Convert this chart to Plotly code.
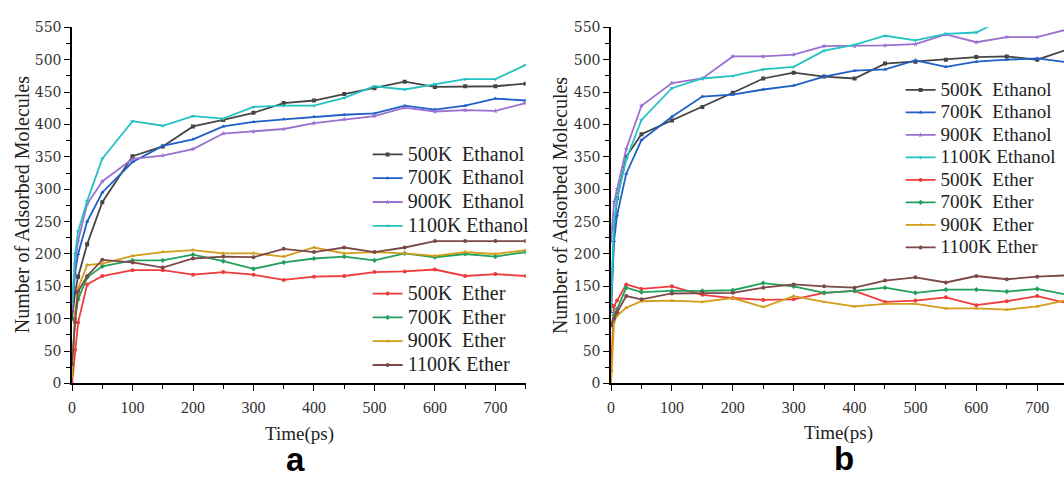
import plotly.graph_objects as go

W, H = 1064, 478

# ---------------- data ----------------
time_ps = [0, 5, 10, 25, 50, 100, 150, 200, 250, 300, 350, 400, 450, 500, 550, 600, 650, 700, 750]

series_names = ["500K  Ethanol", "700K  Ethanol", "900K  Ethanol", "1100K Ethanol",
                "500K  Ether", "700K  Ether", "900K  Ether", "1100K Ether"]

# panel a
a_500_ethanol = [100, 140, 165, 215, 280, 351, 366, 397, 407, 418, 433, 437, 447, 456, 466, 458, 459, 459, 463]
a_700_ethanol = [110, 170, 200, 250, 295, 342, 367, 377, 397, 404, 408, 412, 415, 417, 429, 423, 429, 440, 437]
a_900_ethanol = [115, 185, 220, 277, 312, 347, 352, 362, 386, 389, 393, 402, 408, 413, 426, 420, 422, 421, 433]
a_1100_ethanol = [122, 200, 235, 282, 347, 405, 398, 413, 409, 427, 429, 429, 441, 459, 454, 462, 470, 470, 492]
a_500_ether = [0, 52, 94, 153, 166, 175, 175, 168, 172, 168, 160, 165, 166, 172, 173, 176, 166, 169, 166]
a_700_ether = [20, 100, 130, 164, 181, 190, 190, 199, 189, 177, 187, 193, 196, 190, 201, 195, 200, 196, 203]
a_900_ether = [10, 110, 147, 183, 185, 197, 203, 206, 201, 201, 196, 210, 201, 203, 201, 197, 203, 200, 206]
a_1100_ether = [30, 95, 142, 166, 191, 187, 179, 193, 196, 195, 208, 203, 210, 203, 210, 220, 220, 220, 220]

# panel b
b_500_ethanol = [120, 240, 286, 350, 385, 406, 427, 449, 471, 480, 474, 471, 494, 497, 500, 504, 505, 500, 516]
b_700_ethanol = [110, 220, 260, 324, 376, 412, 443, 446, 454, 460, 474, 483, 485, 499, 489, 497, 500, 502, 496]
b_900_ethanol = [220, 280, 300, 362, 429, 464, 471, 505, 505, 508, 521, 521, 522, 524, 539, 527, 535, 535, 547]
b_1100_ethanol = [113, 250, 285, 346, 407, 456, 471, 475, 485, 489, 514, 523, 537, 530, 540, 542, 565, 575, 585]
b_500_ether = [20, 120, 128, 153, 146, 150, 137, 132, 129, 130, 140, 143, 126, 128, 133, 121, 127, 135, 124]
b_700_ether = [90, 105, 115, 148, 141, 143, 143, 144, 155, 150, 140, 143, 148, 140, 145, 145, 142, 146, 137]
b_900_ether = [0, 95, 105, 117, 127, 128, 126, 132, 118, 135, 126, 119, 123, 123, 116, 116, 114, 119, 129]
b_1100_ether = [90, 100, 110, 135, 130, 139, 140, 140, 148, 153, 150, 148, 159, 164, 156, 166, 161, 165, 167]

y_ticks = [0, 50, 100, 150, 200, 250, 300, 350, 400, 450, 500, 550]
x_ticks = [0, 100, 200, 300, 400, 500, 600, 700]

# ---------------- styles ----------------
colors = ["#454545", "#1f5fc6", "#9b70d0", "#25c2c4", "#f03c3c", "#22a05c", "#d49c18", "#7c4848"]
symbols = ["square", "triangle-up", "star", "triangle-down", "circle", "diamond", "triangle-up", "circle"]

panel_a = [a_500_ethanol, a_700_ethanol, a_900_ethanol, a_1100_ethanol,
           a_500_ether, a_700_ether, a_900_ether, a_1100_ether]
panel_b = [b_500_ethanol, b_700_ethanol, b_900_ethanol, b_1100_ethanol,
           b_500_ether, b_700_ether, b_900_ether, b_1100_ether]

SERIF = "Liberation Serif, Times New Roman, serif"


def px_x(x):
    return x / W


def px_y(y):
    return 1 - y / H


def label(name, size):
    return '<span style="font-size:%dpx">%s</span>' % (size, name.replace("  ", "\u00a0 "))


fig = go.Figure()

for i, (name, vals) in enumerate(zip(series_names, panel_a)):
    fig.add_trace(go.Scatter(
        x=time_ps, y=vals, mode="lines+markers", name=label(name, 20),
        line=dict(color=colors[i], width=1.8),
        marker=dict(symbol=symbols[i], size=4, color=colors[i]),
        xaxis="x", yaxis="y",
        legend="legend" if i < 4 else "legend2",
    ))

for i, (name, vals) in enumerate(zip(series_names, panel_b)):
    fig.add_trace(go.Scatter(
        x=time_ps, y=vals, mode="lines+markers", name=label(name, 19),
        line=dict(color=colors[i], width=1.8),
        marker=dict(symbol=symbols[i], size=4, color=colors[i]),
        xaxis="x2", yaxis="y2",
        legend="legend3",
    ))

ydom = [px_y(388.5), px_y(20)]

common_x = dict(
    showgrid=False, zeroline=False, showline=True, linecolor="black", linewidth=1.5,
    ticks="outside", ticklen=6, tickwidth=1.3, tickcolor="black",
    tickvals=x_ticks, ticktext=[str(v) for v in x_ticks],
    tickfont=dict(family=SERIF, size=16, color="#333"),
    minor=dict(ticks="outside", ticklen=4, tickwidth=1.2, tickcolor="black", dtick=50, tick0=0),
    ticklabelstandoff=3,
)
common_y = dict(
    showgrid=False, zeroline=False, showline=True, linecolor="black", linewidth=1.5,
    ticks="outside", ticklen=6, tickwidth=1.3, tickcolor="black",
    range=[0, 550], tickvals=y_ticks, ticktext=[str(v) for v in y_ticks],
    tickfont=dict(family="DejaVu Serif, serif", size=14, color="#333"),
    minor=dict(ticks="outside", ticklen=4, tickwidth=1.2, tickcolor="black", dtick=25, tick0=0),
)

legend_common = dict(
    bgcolor="rgba(0,0,0,0)", borderwidth=0, xanchor="left", yanchor="top",
    traceorder="normal", itemwidth=30,
)

fig.update_layout(
    width=W, height=H,
    margin=dict(l=0, r=0, t=0, b=0),
    paper_bgcolor="white", plot_bgcolor="white",
    font=dict(family=SERIF, color="#222"),
    xaxis=dict(domain=[px_x(68.3), px_x(523.6)], range=[0, 750], anchor="y", **common_x),
    yaxis=dict(domain=ydom, anchor="x", **common_y),
    xaxis2=dict(domain=[px_x(609.3), 1.0], range=[0, 744], anchor="y2", **common_x),
    yaxis2=dict(domain=ydom, anchor="x2", **common_y),
    legend=dict(x=px_x(365), y=px_y(134), font=dict(family=SERIF, size=16, color="#222"), **legend_common),
    legend2=dict(x=px_x(365), y=px_y(278), font=dict(family=SERIF, size=16, color="#222"), **legend_common),
    legend3=dict(x=px_x(900), y=px_y(68), font=dict(family=SERIF, size=15, color="#222"), **legend_common),
    showlegend=True,
)

annotations = [
    dict(text="Number of Adsorbed Molecules", x=px_x(18), y=px_y(203), textangle=-90,
         font=dict(family=SERIF, size=20, color="#222")),
    dict(text="Number of Adsorbed Molecules", x=px_x(558), y=px_y(204), textangle=-90,
         font=dict(family=SERIF, size=20, color="#222")),
    dict(text="Time(ps)", x=px_x(297), y=px_y(441), font=dict(family=SERIF, size=19, color="#222")),
    dict(text="Time(ps)", x=px_x(838), y=px_y(440), font=dict(family=SERIF, size=19, color="#222")),
    dict(text="<b>a</b>", x=px_x(293), y=px_y(467), font=dict(family="Liberation Sans, Arial, sans-serif", size=33, color="black")),
    dict(text="<b>b</b>", x=px_x(843), y=px_y(466), font=dict(family="Liberation Sans, Arial, sans-serif", size=33, color="black")),
]
for a in annotations:
    a.update(xref="paper", yref="paper", showarrow=False, xanchor="center", yanchor="middle")
fig.update_layout(annotations=annotations)

fig.write_html("out.html")
